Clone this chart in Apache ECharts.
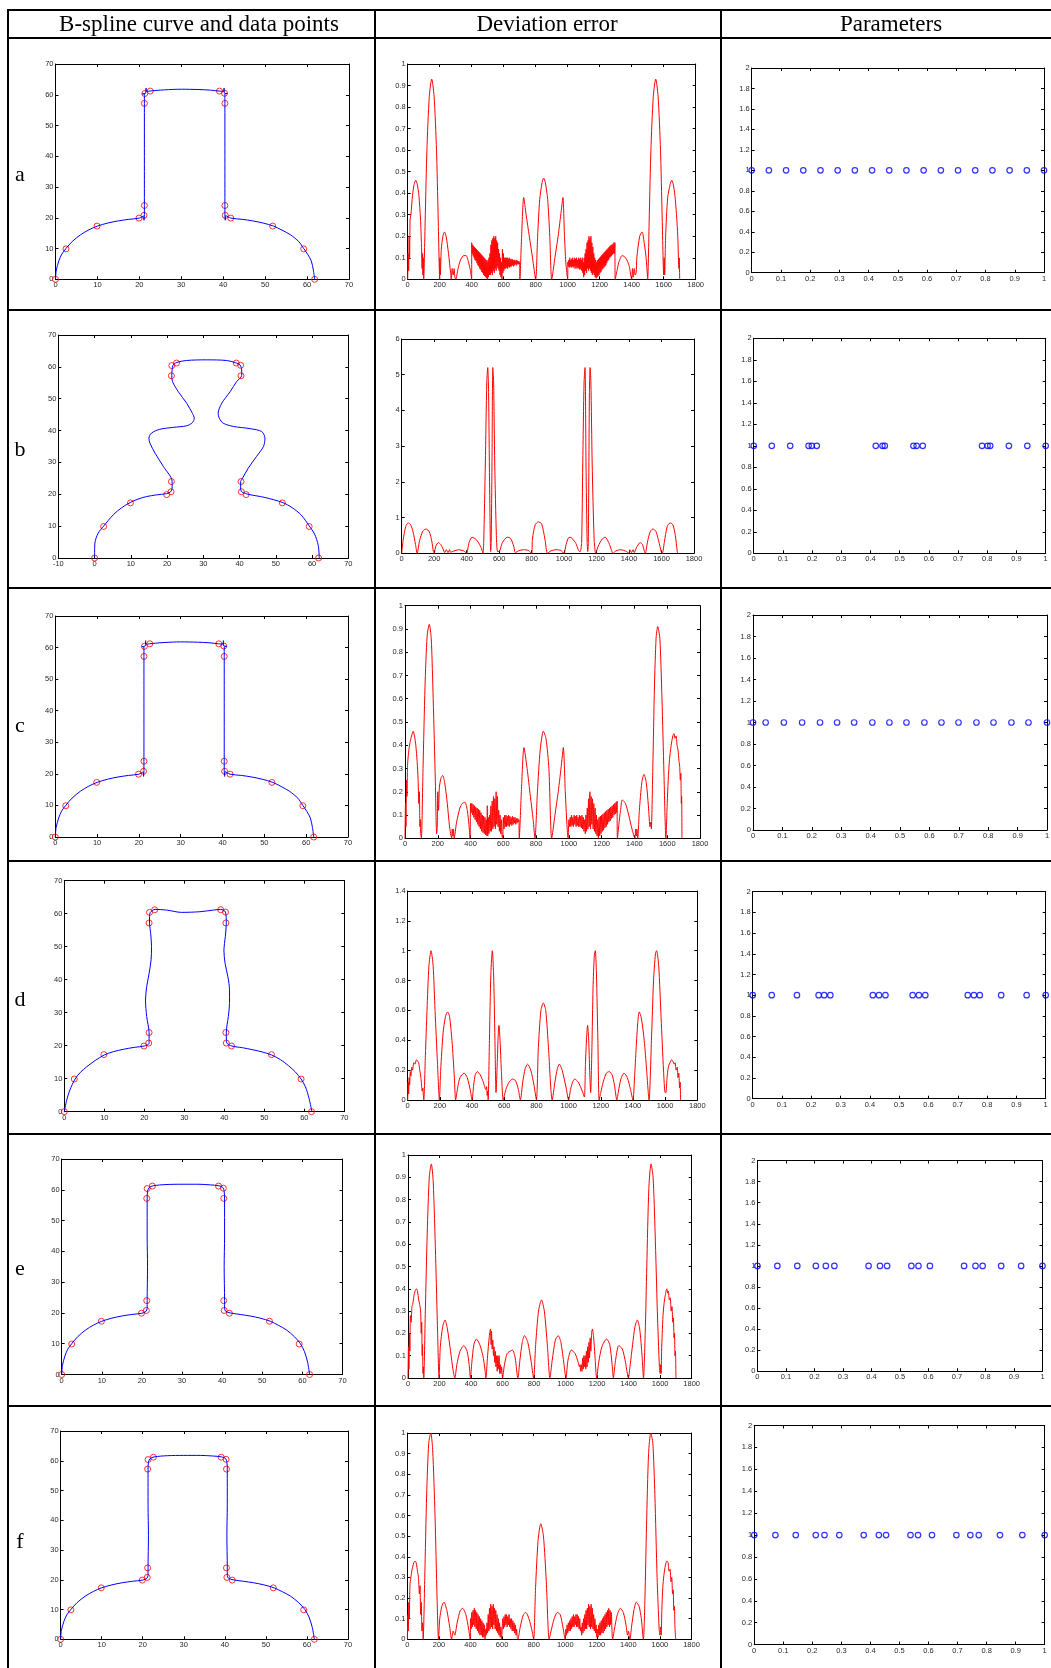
<!DOCTYPE html>
<html>
<head>
<meta charset="utf-8">
<script src="https://cdn.jsdelivr.net/npm/echarts@6/dist/echarts.min.js"></script>
<style>
html, body { margin: 0; padding: 0; background: #fff; }
#wrap { position: relative; width: 1051px; height: 1668px; overflow: hidden; }
#chart { position: absolute; left: 0; top: 0; width: 1051px; height: 1668px; }
.hl { position: absolute; left: 7px; right: 0; height: 2px; background: #000; }
.vl { position: absolute; top: 9px; bottom: 0; width: 2px; background: #000; }
.hd { position: absolute; top: 11px; font-family: "Liberation Serif", "Times New Roman", serif; font-size: 23px; line-height: 26px; transform: translateX(-50%); white-space: nowrap; color: #000; }
.lb { position: absolute; left: 20px; font-family: "Liberation Serif", "Times New Roman", serif; font-size: 22px; line-height: 26px; transform: translate(-50%, -50%); color: #000; }
</style>
</head>
<body>
<div id="wrap">
  <div id="chart"></div>
  <div class="hl" style="top:9px"></div>
  <div class="hl" style="top:37px"></div>
  <div class="hl" style="top:309px"></div>
  <div class="hl" style="top:587px"></div>
  <div class="hl" style="top:860px"></div>
  <div class="hl" style="top:1133px"></div>
  <div class="hl" style="top:1405px"></div>
  <div class="vl" style="left:7px"></div>
  <div class="vl" style="left:374px"></div>
  <div class="vl" style="left:720px"></div>
  <div class="hd" style="left:199px">B-spline curve and data points</div>
  <div class="hd" style="left:547px">Deviation error</div>
  <div class="hd" style="left:891px">Parameters</div>
  <div class="lb" style="top:174px">a</div>
  <div class="lb" style="top:449px">b</div>
  <div class="lb" style="top:725px">c</div>
  <div class="lb" style="top:999px">d</div>
  <div class="lb" style="top:1268px">e</div>
  <div class="lb" style="top:1541px">f</div>
</div>
<script>
// data points (red circles), same in every row
var dataPts = [[0,0],[2.5,9.9],[9.9,17.3],[19.9,19.9],[21.1,20.8],[21.2,24],[21.2,57.2],[21.3,60.4],[22.6,61.2],[39.1,61.2],[40.3,60.5],[40.4,57.2],[40.4,24],[40.5,20.8],[41.8,19.9],[51.8,17.3],[59.2,9.9],[61.8,0]];

// fitted B-spline curves
var curveA = [[0,0],[0.2,3],[0.8,6],[1.5,8.2],[2.5,10],[4,12.3],[6,14.5],[8,16.1],[10,17.3],[12.5,18.3],[15,19],[17.5,19.5],[20,19.9],[21,20.6],[21.1,19.2],[21.2,21],[21.2,24],[21.2,35],[21.2,45],[21.2,57.2],[21.2,60.2],[20.7,60.3],[21.5,60.5],[21.6,62.2],[21.7,61.1],[22.5,61.2],[24,61.4],[26,61.6],[30,61.8],[34,61.7],[37,61.5],[39,61.2],[40.1,61.1],[40.2,62.2],[40.3,60.5],[41,60.4],[40.4,60.2],[40.4,57.2],[40.4,45],[40.4,35],[40.4,24],[40.4,21],[40.5,19.2],[40.6,20.7],[41.8,19.9],[44.5,19.5],[47,19],[49.5,18.3],[52,17.3],[54,16],[56,14.5],[58,12.3],[59.2,10],[60.2,8],[61,6],[61.5,3],[61.8,0]];
var curveB = [[0,0],[0.1,4.7],[1,7.8],[2.5,10],[5.2,13.6],[7.5,15.8],[9.8,17.4],[12,18.5],[14.4,19.3],[17,19.8],[19.9,20.2],[21,20.8],[21.4,21.9],[21.4,24],[19,28.7],[16.7,32.9],[15.3,36],[15,37.6],[15.7,39.2],[18,40.4],[21.7,41],[25.4,41.5],[27,42.5],[27.5,43.9],[27,45.4],[25.4,48.6],[23.1,52.2],[21.5,55.4],[21.3,57.3],[21.4,59],[21.6,60.4],[22.5,61.3],[25.4,62],[30.9,62.2],[36.4,62],[38.9,61.3],[40.1,60.6],[40.6,59],[40.6,57.3],[39.2,55.4],[37.4,52.2],[35.1,48.6],[34.1,45.4],[34.4,43.9],[35.5,42.3],[38.3,41.3],[42.9,40.6],[46.1,39.7],[47,37.6],[46.6,35],[44.7,31.9],[42.4,28.2],[40.6,24.6],[40.3,24],[40.3,22],[40.5,20.9],[42,20.1],[47,19],[51.9,17.4],[54.5,15.8],[57,13.5],[59.2,10.1],[60.7,7.5],[61.7,4],[62,0]];
var curveD = [[0,0],[0.6,3.5],[1.4,6.6],[2.7,9.9],[4,11.9],[5.6,13.6],[7.7,15.5],[10,17.2],[12.3,18.2],[14.75,18.9],[17.5,19.5],[20,19.9],[21.2,20.7],[21.2,22.2],[21.2,23.9],[20.6,28.8],[20.3,33.8],[20.6,37.9],[21.2,41.9],[21.7,46],[21.8,50],[21.6,54],[21.3,57.1],[21.3,59.1],[21.5,60.4],[22.7,61.3],[25.6,61.1],[29.3,60.4],[33.9,60.6],[37.3,61.1],[39.1,61.3],[40.3,60.5],[40.5,57.1],[40.25,53],[39.9,49],[40.2,44.9],[40.9,40.9],[41.3,36.9],[41.3,32.8],[41,28.8],[40.5,23.9],[40.6,20.9],[41.9,19.9],[44.5,19.4],[47,18.8],[49.5,18.1],[51.8,17.2],[54,15.8],[56,14],[57.8,12],[59.2,9.9],[60.3,7.5],[61.2,4],[61.9,0]];
var curveE = [[0,0],[0.2,3],[0.8,6],[1.5,8.2],[2.5,10],[4,12.3],[6,14.5],[8,16.1],[10,17.3],[12.5,18.3],[15,19],[17.5,19.5],[20,19.9],[21,20.5],[21.3,21.5],[21.3,24],[21.4,35],[21.3,45],[21.3,57],[21.4,59.5],[21.8,60.7],[22.8,61.3],[26,61.7],[30,61.8],[34,61.8],[37,61.6],[39.2,61.3],[40.2,60.7],[40.5,59.5],[40.6,57],[40.6,45],[40.5,35],[40.6,24],[40.6,21.5],[40.9,20.5],[42,20],[44.5,19.5],[47,19],[49.5,18.3],[52,17.3],[54,16],[56,14.5],[58,12.3],[59.5,10],[60.5,7.5],[61.3,4],[61.8,0]];

// deviation error curves
var errA = [[0,0],[3,0.12],[6,0.04],[9,0.2],[12,0.1],[15,0.28],[20,0.3],[30,0.39],[40,0.44],[50,0.46],[60,0.44],[70,0.39],[80,0.28],[86,0.16],[90,0.05],[93,0.12],[95,0.02],[97,0.1],[100,0],
[110,0.3],[120,0.6],[135,0.85],[150,0.93],[165,0.85],[180,0.6],[190,0.3],[200,0],
[201,0.1],[204,0.02],[210,0.14],[220,0.2],[230,0.22],[240,0.2],[255,0.12],[268,0.03],[272,0],[278,0.05],[284,0.02],[290,0.05],[295,0.01],[300,0],
[315,0.05],[330,0.09],[350,0.11],[365,0.11],[380,0.08],[392,0.04],[400,0],
[400,0.17],[403,0.12],[406,0.16],[409,0.11],[412,0.155],[415,0.1],[418,0.15],[421,0.09],[424,0.145],[427,0.085],[430,0.14],[433,0.075],[436,0.135],[439,0.065],[442,0.13],[445,0.06],[448,0.125],[451,0.05],[454,0.12],[457,0.045],[460,0.115],[463,0.035],[466,0.11],[469,0.03],[472,0.105],[475,0.02],[478,0.1],[481,0.015],[484,0.095],[487,0.01],[490,0.09],[493,0.005],[496,0.08],[499,0],[502,0.09],[505,0.01],[508,0.1],[511,0.02],[514,0.12],[517,0.02],[520,0.16],[523,0.03],[526,0.18],[529,0.02],[532,0.19],[535,0.04],[538,0.2],[541,0.03],[544,0.19],[547,0.05],[550,0.2],[553,0.04],[556,0.18],[559,0.06],[562,0.17],[565,0.05],[568,0.14],[571,0.04],[574,0.12],[577,0.02],[580,0.1],[583,0.01],[586,0.08],[589,0],[592,0.14],[595,0.03],[598,0.12],[601,0.04],[604,0.1],[607,0.05],[610,0.1],[613,0.05],[616,0.1],[619,0.055],[622,0.1],[625,0.05],[628,0.095],[631,0.06],[634,0.1],[637,0.055],[640,0.095],[643,0.06],[646,0.09],[649,0.06],[652,0.095],[655,0.065],[658,0.09],[661,0.06],[664,0.09],[667,0.065],[670,0.09],[673,0.07],[676,0.085],[679,0.065],[682,0.09],[685,0.07],[688,0.085],[691,0.07],[694,0.085],[697,0.07],[700,0.08],[701,0],
[712,0.2],[725,0.38],[740,0.3],[760,0.2],[780,0.1],[800,0],
[812,0.2],[825,0.37],[840,0.45],[850,0.47],[860,0.45],[875,0.37],[888,0.2],[900,0],
[920,0.1],[940,0.2],[960,0.32],[970,0.38],[980,0.2],[988,0.08],[1000,0],
[1001,0.08],[1004,0.06],[1007,0.09],[1010,0.055],[1013,0.1],[1016,0.06],[1019,0.09],[1022,0.055],[1025,0.095],[1028,0.06],[1031,0.1],[1034,0.055],[1037,0.09],[1040,0.06],[1043,0.1],[1046,0.05],[1049,0.095],[1052,0.06],[1055,0.1],[1058,0.05],[1061,0.09],[1064,0.055],[1067,0.1],[1070,0.05],[1073,0.095],[1076,0.045],[1079,0.1],[1082,0.05],[1085,0.09],[1088,0.04],[1091,0.1],[1094,0.03],[1097,0.08],[1100,0.01],[1103,0.1],[1106,0.02],[1109,0.12],[1112,0.04],[1115,0.14],[1118,0.03],[1121,0.17],[1124,0.05],[1127,0.18],[1130,0.04],[1133,0.2],[1136,0.05],[1139,0.19],[1142,0.04],[1145,0.2],[1148,0.03],[1151,0.17],[1154,0.02],[1157,0.15],[1160,0.03],[1163,0.12],[1166,0.02],[1169,0.1],[1172,0.01],[1175,0.09],[1178,0.005],[1181,0.08],[1184,0.01],[1187,0.09],[1190,0.015],[1193,0.095],[1196,0.02],[1199,0.1],[1202,0.03],[1205,0.105],[1208,0.035],[1211,0.11],[1214,0.045],[1217,0.115],[1220,0.05],[1223,0.12],[1226,0.055],[1229,0.125],[1232,0.06],[1235,0.13],[1238,0.065],[1241,0.135],[1244,0.075],[1247,0.14],[1250,0.085],[1253,0.145],[1256,0.09],[1259,0.15],[1262,0.1],[1265,0.155],[1268,0.105],[1271,0.16],[1274,0.11],[1277,0.16],[1280,0.115],[1283,0.165],[1286,0.12],[1289,0.17],[1292,0.12],[1295,0.17],[1297,0],
[1308,0.04],[1320,0.08],[1340,0.11],[1355,0.105],[1370,0.09],[1385,0.06],[1400,0],
[1405,0.05],[1410,0.01],[1416,0.05],[1422,0.02],[1428,0.03],
[1432,0.1],[1450,0.2],[1465,0.22],[1480,0.16],[1490,0.1],[1498,0.02],[1500,0],
[1510,0.3],[1520,0.6],[1535,0.85],[1550,0.93],[1565,0.85],[1580,0.6],[1590,0.3],[1600,0.02],
[1603,0.1],[1606,0.02],[1612,0.2],[1625,0.38],[1640,0.44],[1650,0.46],[1660,0.44],[1670,0.39],[1680,0.3],[1688,0.2],[1692,0.1],[1695,0.05],[1697,0.1],[1700,0]];

var errB = [[0,0],[10,0.4],[25,0.75],[40,0.85],[55,0.8],[70,0.6],[85,0.25],[95,0],
[110,0.35],[130,0.62],[150,0.68],[170,0.6],[185,0.35],[195,0.05],
[200,0],[210,0.2],[226,0.3],[240,0.25],[255,0.12],[265,0.02],
[275,0.1],[285,0.02],[295,0.1],[300,0.03],
[320,0.06],[350,0.1],[380,0.07],[395,0.02],
[400,0],[415,0.3],[433,0.45],[460,0.38],[485,0.2],[497,0.05],
[500,0],[505,0.3],[515,2.5],[524,4.8],[530,5.2],[535,4.5],[541,2.0],[546,0.3],[548,0.05],
[551,0.3],[556,2.5],[561,5.2],[566,4.8],[573,2.5],[583,0.5],[590,0.05],
[600,0.05],[620,0.3],[650,0.45],[670,0.42],[690,0.2],[700,0.02],
[720,0.07],[750,0.1],[780,0.08],[800,0],
[805,0.4],[822,0.8],[842,0.88],[862,0.82],[882,0.4],[898,0],
[920,0.07],[950,0.1],[980,0.08],[1000,0],
[1010,0.2],[1025,0.42],[1037,0.45],[1070,0.3],[1095,0.05],
[1100,0.05],[1108,0.3],[1115,2.5],[1123,4.8],[1129,5.2],[1135,2.5],[1142,0.3],[1146,0.05],
[1149,0.3],[1152,2.0],[1156,4.5],[1160,5.2],[1165,4.8],[1173,2.5],[1185,0.4],[1195,0],
[1210,0.2],[1235,0.4],[1253,0.45],[1275,0.3],[1295,0.05],
[1300,0],[1320,0.07],[1350,0.1],[1380,0.06],[1400,0],
[1405,0.1],[1415,0.02],[1425,0.1],[1432,0.02],
[1445,0.15],[1468,0.3],[1482,0.25],[1495,0.05],
[1500,0],[1515,0.35],[1530,0.6],[1546,0.68],[1565,0.62],[1582,0.35],[1600,0.02],
[1605,0],[1617,0.3],[1635,0.75],[1653,0.85],[1670,0.8],[1685,0.5],[1697,0.05],[1700,0]];

var errC = [[0,0],[3,0.15],[6,0.05],[9,0.25],[12,0.18],[16,0.32],[22,0.37],[30,0.41],[40,0.44],[50,0.46],[58,0.44],[66,0.4],[74,0.33],[80,0.25],[84,0.15],[88,0.2],[91,0.05],[94,0.08],[96,0.02],[100,0],
[110,0.3],[122,0.65],[135,0.87],[148,0.92],[160,0.86],[172,0.6],[185,0.25],[193,0.02],
[197,0.05],[200,0.2],[205,0.12],[210,0.22],[220,0.26],[230,0.27],[242,0.24],[258,0.15],[272,0.05],[285,0],
[288,0.04],[292,0.01],[296,0.04],[300,0],
[315,0.07],[335,0.13],[350,0.15],[366,0.155],[380,0.12],[390,0.06],[397,0],
[400,0.15],[404,0.11],[408,0.15],[412,0.1],[416,0.145],[420,0.09],[424,0.14],[428,0.08],[432,0.135],[436,0.07],[440,0.13],[444,0.06],[448,0.125],[452,0.05],[456,0.12],[460,0.04],[464,0.11],[468,0.03],[472,0.1],[476,0.025],[480,0.095],[484,0.02],[488,0.09],[492,0.015],[496,0.08],[500,0.01],[502,0.14],[505,0.01],[508,0.09],[512,0.02],[516,0.1],[520,0.03],[524,0.14],[528,0.03],[532,0.16],[536,0.04],[540,0.18],[544,0.05],[548,0.17],[552,0.04],[556,0.2],[560,0.06],[564,0.18],[568,0.05],[572,0.12],[576,0.03],[580,0.1],[584,0.02],[588,0.08],[592,0.01],[596,0],
[600,0.09],[604,0.04],[608,0.1],[612,0.05],[616,0.1],[620,0.05],[624,0.095],[628,0.055],[632,0.1],[636,0.05],[640,0.095],[644,0.06],[648,0.09],[652,0.055],[656,0.095],[660,0.06],[664,0.09],[668,0.065],[672,0.09],[676,0.06],[680,0.085],[684,0.065],[688,0.085],[692,0.07],[695,0.08],[697,0],
[710,0.2],[726,0.39],[745,0.3],[765,0.18],[782,0.08],[793,0],
[808,0.2],[825,0.38],[844,0.46],[860,0.43],[878,0.3],[895,0],
[915,0.1],[935,0.2],[955,0.32],[966,0.39],[978,0.2],[988,0.06],[995,0],
[1000,0.08],[1004,0.05],[1008,0.09],[1012,0.05],[1016,0.1],[1020,0.055],[1024,0.09],[1028,0.05],[1032,0.1],[1036,0.06],[1040,0.095],[1044,0.05],[1048,0.1],[1052,0.055],[1056,0.09],[1060,0.05],[1064,0.1],[1068,0.05],[1072,0.095],[1076,0.045],[1080,0.1],[1084,0.04],[1088,0.09],[1092,0.03],[1096,0.08],[1100,0.02],[1104,0.1],[1108,0.03],[1112,0.13],[1116,0.04],[1120,0.17],[1124,0.05],[1128,0.2],[1132,0.04],[1136,0.18],[1140,0.06],[1144,0.17],[1148,0.04],[1152,0.15],[1156,0.03],[1160,0.13],[1164,0.02],[1168,0.1],[1172,0.01],[1176,0.08],[1180,0],[1184,0.09],[1188,0.01],[1192,0.095],[1196,0.02],[1200,0.1],[1204,0.03],[1208,0.105],[1212,0.035],[1216,0.11],[1220,0.045],[1224,0.115],[1228,0.05],[1232,0.12],[1236,0.06],[1240,0.125],[1244,0.07],[1248,0.13],[1252,0.075],[1256,0.135],[1260,0.085],[1264,0.14],[1268,0.09],[1272,0.145],[1276,0.1],[1280,0.15],[1284,0.105],[1288,0.155],[1292,0.11],[1294,0.16],[1296,0],
[1305,0.06],[1315,0.12],[1326,0.165],[1345,0.15],[1365,0.1],[1385,0.04],[1403,0],
[1407,0.04],[1411,0.01],[1415,0.04],[1420,0],
[1430,0.12],[1445,0.24],[1458,0.275],[1472,0.24],[1485,0.14],[1495,0.05],[1500,0.07],[1503,0.04],
[1512,0.3],[1522,0.65],[1532,0.86],[1542,0.91],[1555,0.86],[1568,0.6],[1580,0.28],[1592,0],
[1600,0.15],[1606,0.25],[1614,0.34],[1624,0.4],[1634,0.44],[1641,0.45],[1648,0.43],[1654,0.44],[1660,0.4],[1666,0.38],[1672,0.33],[1676,0.31],[1680,0.25],[1683,0.28],[1686,0.15],[1688,0.18],[1690,0]];

var errD = [[0,0],[3,0.12],[6,0.04],[9,0.15],[12,0.1],[16,0.19],[20,0.16],[25,0.22],[30,0.2],[38,0.25],[45,0.24],[55,0.27],[62,0.26],[68,0.25],[75,0.2],[82,0.15],[86,0.1],[90,0.06],[94,0.08],[97,0.04],[100,0],
[110,0.3],[120,0.6],[132,0.9],[145,1.0],[158,0.9],[170,0.6],[185,0.25],[197,0],
[205,0.2],[220,0.45],[235,0.56],[248,0.59],[260,0.56],[275,0.4],[290,0.15],[298,0],
[310,0.08],[325,0.15],[350,0.18],[370,0.15],[390,0.06],[400,0],
[410,0.1],[420,0.17],[433,0.19],[450,0.17],[470,0.12],[485,0.07],[490,0.09],[494,0.03],[497,0.06],[500,0],
[508,0.4],[517,0.85],[526,1.0],[535,0.8],[543,0.35],[549,0.05],
[555,0.2],[562,0.42],[567,0.5],[574,0.4],[582,0.2],[594,0],
[610,0.07],[630,0.12],[652,0.14],[670,0.13],[688,0.07],[700,0],
[715,0.12],[730,0.21],[745,0.24],[765,0.2],[785,0.1],[800,0],
[812,0.35],[828,0.6],[843,0.65],[858,0.6],[875,0.35],[898,0],
[915,0.12],[930,0.21],[942,0.24],[960,0.2],[985,0.08],[1000,0],
[1012,0.07],[1025,0.12],[1037,0.14],[1060,0.12],[1085,0.06],[1098,0.02],
[1105,0.25],[1112,0.42],[1118,0.5],[1125,0.4],[1131,0.2],[1137,0.05],
[1145,0.35],[1152,0.75],[1160,0.97],[1166,1.0],[1173,0.85],[1182,0.4],[1190,0],
[1200,0.05],[1215,0.12],[1235,0.18],[1253,0.19],[1270,0.17],[1285,0.1],[1300,0],
[1310,0.06],[1325,0.14],[1344,0.18],[1365,0.15],[1385,0.07],[1400,0],
[1410,0.15],[1420,0.35],[1430,0.52],[1439,0.59],[1452,0.55],[1470,0.4],[1485,0.2],[1500,0],
[1515,0.4],[1528,0.8],[1540,0.98],[1547,1.0],[1560,0.9],[1575,0.55],[1590,0.2],[1600,0.05],
[1605,0.05],[1612,0.15],[1620,0.22],[1630,0.25],[1640,0.27],[1648,0.26],[1656,0.24],[1662,0.25],[1668,0.2],[1675,0.22],[1680,0.15],[1685,0.18],[1690,0.08],[1693,0.12],[1696,0]];

var errE = [[0,0],[3,0.14],[6,0.04],[9,0.2],[12,0.12],[15,0.28],[20,0.25],[25,0.32],[30,0.33],[38,0.37],[45,0.39],[53,0.4],[60,0.39],[68,0.35],[74,0.33],[80,0.3],[84,0.2],[87,0.25],[90,0.1],[92,0.15],[95,0.02],[98,0.05],[100,0],
[110,0.3],[122,0.65],[135,0.9],[148,0.96],[160,0.88],[175,0.55],[188,0.2],[197,0],
[205,0.14],[220,0.23],[235,0.26],[250,0.22],[270,0.12],[285,0.04],[297,0],
[310,0.06],[330,0.12],[354,0.145],[375,0.12],[388,0.06],[396,0],
[405,0.07],[418,0.15],[434,0.175],[455,0.15],[475,0.1],[488,0.04],[494,0],
[505,0.1],[515,0.18],[523,0.22],[527,0.15],[530,0.21],[534,0.13],[538,0.17],[542,0.1],[546,0.14],[550,0.07],[554,0.12],[558,0.05],[562,0.1],[566,0.03],[570,0.1],[574,0.04],[578,0.1],[582,0.02],[586,0.06],[590,0.02],[594,0.05],[600,0],
[612,0.06],[630,0.11],[663,0.125],[680,0.09],[697,0],
[710,0.08],[725,0.16],[739,0.19],[760,0.16],[780,0.08],[797,0],
[810,0.15],[828,0.3],[847,0.35],[865,0.3],[885,0.14],[900,0],
[915,0.08],[935,0.17],[953,0.19],[970,0.16],[990,0.06],[1002,0],
[1015,0.08],[1036,0.125],[1060,0.11],[1080,0.07],[1088,0.05],[1092,0.06],[1095,0.03],
[1100,0.06],[1104,0.03],[1108,0.09],[1112,0.04],[1116,0.1],[1120,0.05],[1124,0.1],[1128,0.04],[1132,0.12],[1136,0.05],[1140,0.14],[1144,0.07],[1148,0.16],[1152,0.09],[1156,0.18],[1160,0.12],[1165,0.2],[1170,0.22],[1178,0.18],[1186,0.1],[1197,0],
[1210,0.07],[1230,0.14],[1260,0.175],[1280,0.15],[1295,0.06],[1303,0],
[1315,0.07],[1337,0.145],[1360,0.13],[1380,0.07],[1398,0],
[1410,0.06],[1425,0.15],[1440,0.23],[1455,0.26],[1470,0.22],[1485,0.1],[1494,0],
[1505,0.2],[1515,0.5],[1528,0.85],[1542,0.96],[1555,0.9],[1568,0.65],[1582,0.3],[1595,0.05],[1600,0.02],
[1603,0.06],[1606,0.02],[1609,0.12],[1613,0.2],[1618,0.28],[1624,0.33],[1632,0.37],[1642,0.4],[1648,0.38],[1652,0.39],[1658,0.35],[1664,0.36],[1670,0.3],[1675,0.32],[1680,0.25],[1684,0.27],[1688,0.18],[1691,0.2],[1694,0.1],[1697,0.12],[1700,0]];

var errF = [[0,0],[3,0.12],[6,0.04],[9,0.18],[12,0.1],[16,0.26],[22,0.3],[30,0.34],[40,0.37],[48,0.38],[56,0.37],[64,0.33],[70,0.3],[76,0.22],[80,0.26],[84,0.12],[88,0.18],[92,0.04],[96,0.08],[100,0],
[110,0.3],[122,0.7],[135,0.95],[148,1.0],[160,0.92],[175,0.6],[188,0.2],[197,0],
[205,0.1],[218,0.16],[232,0.18],[250,0.14],[268,0.06],[280,0],
[290,0.04],[300,0.02],[315,0.08],[335,0.14],[350,0.15],[370,0.12],[388,0.05],[398,0],
[400,0.1],[404,0.05],[408,0.13],[412,0.06],[416,0.14],[420,0.07],[424,0.15],[428,0.06],[432,0.14],[436,0.05],[440,0.13],[444,0.04],[448,0.12],[452,0.03],[456,0.11],[460,0.02],[464,0.1],[468,0.02],[472,0.09],[476,0.01],[480,0.08],[484,0.01],[488,0.07],[492,0],[496,0.05],
[500,0.02],[504,0.08],[508,0.03],[512,0.12],[516,0.04],[520,0.15],[524,0.05],[528,0.17],[532,0.06],[536,0.16],[540,0.05],[544,0.17],[548,0.07],[552,0.15],[556,0.05],[560,0.14],[564,0.04],[568,0.12],[572,0.03],[576,0.1],[580,0.02],[584,0.08],[588,0.01],[592,0.06],[596,0],
[600,0.04],[604,0.1],[608,0.05],[612,0.11],[616,0.06],[620,0.12],[624,0.07],[628,0.12],[632,0.06],[636,0.11],[640,0.07],[644,0.12],[648,0.06],[652,0.1],[656,0.05],[660,0.1],[664,0.04],[668,0.09],[672,0.04],[676,0.08],[680,0.03],[684,0.07],[688,0.02],[692,0.05],[696,0.01],[700,0],
[715,0.06],[735,0.12],[750,0.13],[770,0.1],[790,0.04],[800,0],
[812,0.25],[828,0.48],[845,0.56],[862,0.5],[880,0.28],[898,0],
[910,0.04],[930,0.1],[950,0.13],[968,0.12],[985,0.06],[1000,0],
[1004,0.05],[1008,0.02],[1012,0.07],[1016,0.03],[1020,0.08],[1024,0.04],[1028,0.09],[1032,0.04],[1036,0.1],[1040,0.05],[1044,0.11],[1048,0.06],[1052,0.12],[1056,0.06],[1060,0.11],[1064,0.07],[1068,0.12],[1072,0.06],[1076,0.12],[1080,0.06],[1084,0.11],[1088,0.05],[1092,0.1],[1096,0.04],[1100,0.06],
[1104,0.02],[1108,0.08],[1112,0.03],[1116,0.1],[1120,0.04],[1124,0.12],[1128,0.05],[1132,0.14],[1136,0.05],[1140,0.15],[1144,0.07],[1148,0.17],[1152,0.06],[1156,0.16],[1160,0.05],[1164,0.17],[1168,0.06],[1172,0.15],[1176,0.05],[1180,0.12],[1184,0.04],[1188,0.1],[1192,0.03],[1196,0.07],[1200,0.01],
[1204,0.05],[1208,0.01],[1212,0.07],[1216,0.02],[1220,0.08],[1224,0.02],[1228,0.09],[1232,0.03],[1236,0.1],[1240,0.03],[1244,0.11],[1248,0.04],[1252,0.12],[1256,0.05],[1260,0.13],[1264,0.06],[1268,0.14],[1272,0.07],[1276,0.15],[1280,0.06],[1284,0.14],[1288,0.07],[1292,0.13],[1296,0.05],[1300,0],
[1312,0.05],[1330,0.12],[1350,0.15],[1368,0.13],[1385,0.07],[1395,0.02],[1400,0.04],[1410,0],
[1420,0.06],[1435,0.14],[1450,0.18],[1468,0.16],[1482,0.1],[1495,0],
[1505,0.2],[1515,0.55],[1528,0.9],[1542,1.0],[1555,0.95],[1568,0.7],[1582,0.3],[1595,0.05],[1600,0.02],
[1604,0.06],[1608,0.02],[1612,0.14],[1618,0.25],[1625,0.31],[1635,0.36],[1645,0.38],[1652,0.37],[1658,0.33],[1664,0.34],[1670,0.28],[1675,0.3],[1680,0.22],[1684,0.24],[1688,0.14],[1692,0.16],[1695,0.06],[1700,0]];

// parameter values (all plotted at y = 1)
var paramsA = [0,0.0588,0.1176,0.1765,0.2353,0.2941,0.3529,0.4118,0.4706,0.5294,0.5882,0.6471,0.7059,0.7647,0.8235,0.8824,0.9412,1];
var paramsB = [0,0.062,0.125,0.188,0.199,0.216,0.418,0.441,0.449,0.547,0.558,0.579,0.782,0.801,0.81,0.874,0.937,1];
var paramsC = [0,0.043,0.105,0.167,0.228,0.286,0.344,0.406,0.464,0.522,0.583,0.641,0.699,0.76,0.818,0.879,0.937,1];
var paramsD = [0,0.065,0.151,0.225,0.244,0.265,0.41,0.431,0.453,0.546,0.567,0.589,0.734,0.755,0.775,0.848,0.935,1];
var paramsE = [0,0.07,0.14,0.205,0.24,0.27,0.39,0.43,0.455,0.54,0.565,0.605,0.725,0.765,0.79,0.855,0.925,1];
var paramsF = [0,0.073,0.143,0.212,0.242,0.293,0.377,0.429,0.454,0.538,0.564,0.612,0.696,0.744,0.773,0.846,0.923,1];
var paramLevel = 1;

// axis ranges [min, max, interval]
var curveAxis = [0, 70, 10];
var curveAxisB = [-10, 70, 10];
var errXAxis = [0, 1800, 200];
var errYAxis = [0, 1, 0.1];
var errYAxisB = [0, 6, 1];
var errYAxisD = [0, 1.4, 0.2];
var parXAxis = [0, 1, 0.1];
var parYAxis = [0, 2, 0.2];

// panel boxes: [left, top, right, bottom]
var panels = [
  { kind: 'curve', data: curveA, box: [55.5, 64, 349, 279.3], x: curveAxis, y: curveAxis },
  { kind: 'err', data: errA, box: [407.7, 64, 695.7, 279.3], x: errXAxis, y: errYAxis },
  { kind: 'par', data: paramsA, box: [751.7, 68, 1044, 272.7], x: parXAxis, y: parYAxis },

  { kind: 'curve', data: curveB, box: [58.3, 335, 348.3, 558], x: curveAxisB, y: curveAxis },
  { kind: 'err', data: errB, box: [401.7, 339, 694, 553.3], x: errXAxis, y: errYAxisB },
  { kind: 'par', data: paramsB, box: [753.7, 338.3, 1045.7, 553.3], x: parXAxis, y: parYAxis },

  { kind: 'curve', data: curveA, box: [55.3, 616, 348, 837], x: curveAxis, y: curveAxis },
  { kind: 'err', data: errC, box: [405, 605.7, 700, 838.3], x: errXAxis, y: errYAxis },
  { kind: 'par', data: paramsC, box: [753, 615, 1047, 830], x: parXAxis, y: parYAxis },

  { kind: 'curve', data: curveD, box: [64.3, 880.7, 344.3, 1111.7], x: curveAxis, y: curveAxis },
  { kind: 'err', data: errD, box: [407.7, 891, 697.3, 1100], x: errXAxis, y: errYAxisD },
  { kind: 'par', data: paramsD, box: [752.7, 891.7, 1045.7, 1098.7], x: parXAxis, y: parYAxis },

  { kind: 'curve', data: curveE, box: [61.7, 1159, 342.5, 1374.5], x: curveAxis, y: curveAxis },
  { kind: 'err', data: errE, box: [408, 1155, 691.7, 1378], x: errXAxis, y: errYAxis },
  { kind: 'par', data: paramsE, box: [757.4, 1160.6, 1042.5, 1371.2], x: parXAxis, y: parYAxis },

  { kind: 'curve', data: curveE, box: [60.6, 1431, 348, 1639.3], x: curveAxis, y: curveAxis },
  { kind: 'err', data: errF, box: [407.4, 1433, 691.5, 1639.3], x: errXAxis, y: errYAxis },
  { kind: 'par', data: paramsF, box: [754.2, 1425.5, 1044.7, 1644.6], x: parXAxis, y: parYAxis }
];

var LABEL_FONT = '"Liberation Sans", Arial, sans-serif';

// plain numbers, no thousands separator (MATLAB style)
function tickText(v) {
  return String(Math.round(v * 10000) / 10000);
}

function makeAxis(gi, pos, r, withLabels) {
  return {
    gridIndex: gi,
    type: 'value',
    position: pos,
    min: r[0],
    max: r[1],
    interval: r[2],
    axisLine: { show: true, onZero: false, lineStyle: { color: '#000', width: 1 } },
    axisTick: { show: true, inside: true, length: 3, lineStyle: { color: '#000', width: 1 } },
    axisLabel: {
      show: withLabels, fontSize: 7.5, color: '#2a2a2a', margin: 2,
      fontFamily: LABEL_FONT, showMinLabel: true, showMaxLabel: true,
      formatter: tickText
    },
    splitLine: { show: false }
  };
}

var grids = [], xAxes = [], yAxes = [], series = [];

panels.forEach(function (p, i) {
  grids.push({
    left: p.box[0], top: p.box[1],
    width: p.box[2] - p.box[0], height: p.box[3] - p.box[1],
    containLabel: false, outerBoundsMode: 'none'
  });
  xAxes.push(makeAxis(i, 'bottom', p.x, true));
  xAxes.push(makeAxis(i, 'top', p.x, false));
  yAxes.push(makeAxis(i, 'left', p.y, true));
  yAxes.push(makeAxis(i, 'right', p.y, false));
  var xi = 2 * i, yi = 2 * i;

  if (p.kind === 'curve') {
    series.push({
      type: 'line', xAxisIndex: xi, yAxisIndex: yi, data: p.data,
      symbol: 'none', smooth: 0.3, silent: true,
      lineStyle: { color: '#0000ff', width: 1 }
    });
    series.push({
      type: 'scatter', xAxisIndex: xi, yAxisIndex: yi, data: dataPts,
      symbol: 'circle', symbolSize: 6, silent: true, clip: false,
      itemStyle: { color: 'rgba(0,0,0,0)', borderColor: '#ff0000', borderWidth: 1 }
    });
  } else if (p.kind === 'err') {
    series.push({
      type: 'line', xAxisIndex: xi, yAxisIndex: yi, data: p.data,
      symbol: 'none', smooth: 0.25, silent: true,
      lineStyle: { color: '#ff0000', width: 1 }
    });
  } else {
    series.push({
      type: 'scatter', xAxisIndex: xi, yAxisIndex: yi,
      data: p.data.map(function (u) { return [u, paramLevel]; }),
      symbol: 'circle', symbolSize: 5.5, silent: true, clip: false,
      itemStyle: { color: 'rgba(0,0,0,0)', borderColor: '#0000ff', borderWidth: 1.2 }
    });
  }
});

var chart = echarts.init(document.getElementById('chart'), null, { renderer: 'canvas' });
chart.setOption({
  animation: false,
  backgroundColor: 'transparent',
  grid: grids,
  xAxis: xAxes,
  yAxis: yAxes,
  series: series
});
</script>
</body>
</html>
